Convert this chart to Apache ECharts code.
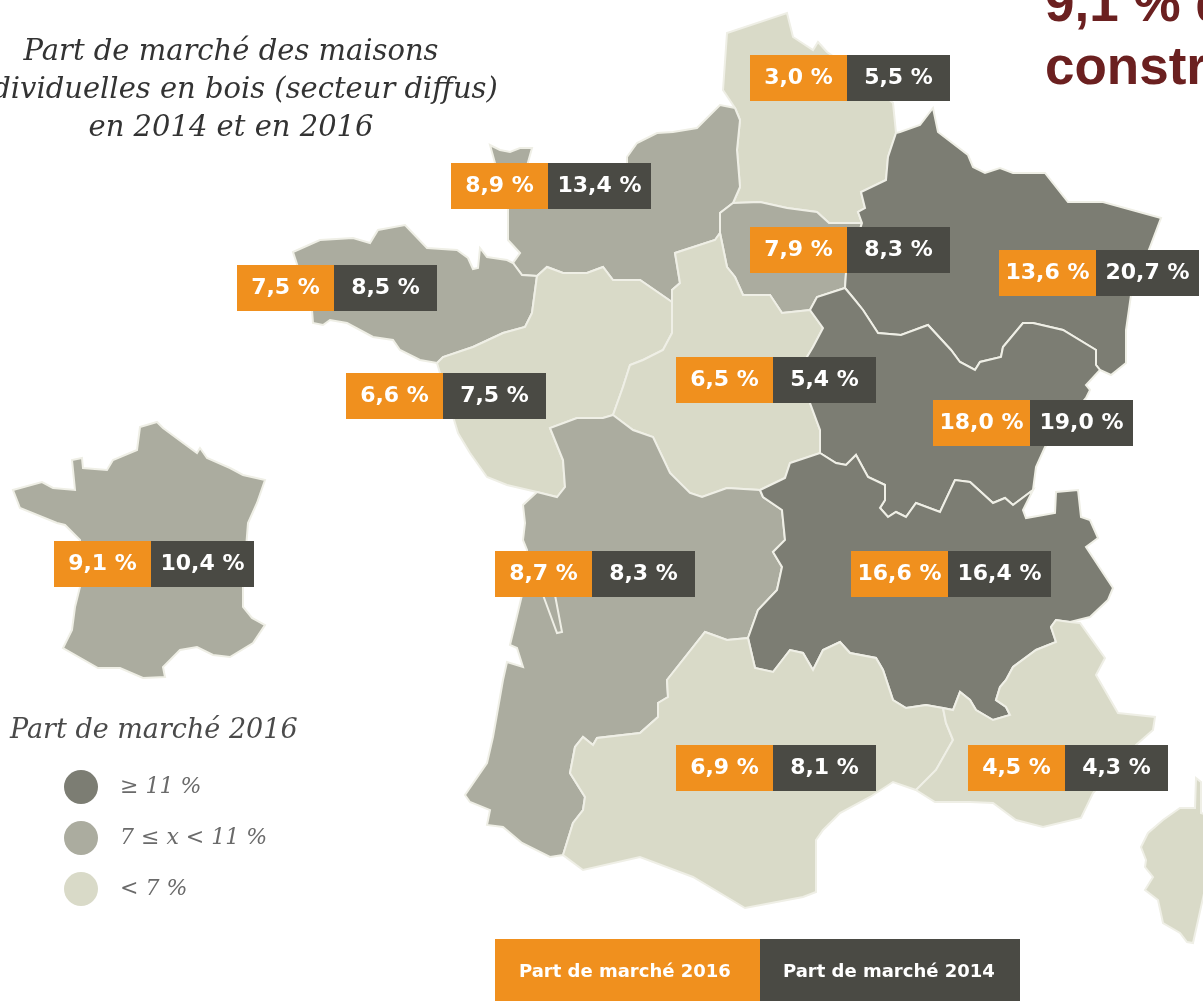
<!DOCTYPE html>
<html lang="fr">
<head>
<meta charset="utf-8">
<title>Part de marché des maisons individuelles en bois</title>
<style>
  html, body { margin: 0; padding: 0; background: #fff; }
  #main { width: 1203px; height: 1001px; overflow: hidden; }
</style>
<script src="https://cdn.jsdelivr.net/npm/echarts@6/dist/echarts.min.js"></script>
</head>
<body>
<div id="main"></div>
<script>
// values
const regions = ['Hauts-de-France', 'Normandie', 'Île-de-France', 'Grand Est', 'Bretagne', 'Pays de la Loire',
  'Centre-Val de Loire', 'Bourgogne-Franche-Comté', 'France', 'Nouvelle-Aquitaine', 'Auvergne-Rhône-Alpes', 'Occitanie', 'PACA']
const share2016 = [3.0, 8.9, 7.9, 13.6, 7.5, 6.6, 6.5, 18.0, 9.1, 8.7, 16.6, 6.9, 4.5]
const share2014 = [5.5, 13.4, 8.3, 20.7, 8.5, 7.5, 5.4, 19.0, 10.4, 8.3, 16.4, 8.1, 4.3]
const legendLabels = ['≥ 11 %', '7 ≤ x < 11 %', '< 7 %']

// where each region hangs its label, in the map's own coordinates
const labelAnchors = [[850, 78], [551, 186], [850, 250], [1099, 273], [337, 288], [446, 396],
  [776, 380], [1033, 423], [154, 564], [595, 574], [951, 574], [776, 768], [1068, 768]]

// region outlines; shared borders so neighbours meet
const nordWest = [[735, 108], [740, 120], [737, 150], [740, 187], [733, 203]]
const nordIdf = [[733, 203], [760, 202], [787, 208], [817, 212], [829, 223], [862, 223]]
const nordGe = [[862, 223], [858, 212], [865, 208], [861, 192], [886, 180], [888, 157], [896, 133]]
const idfNorm = [[733, 203], [720, 213], [720, 233]]
const idfCentre = [[720, 233], [727, 267], [735, 277], [743, 295], [770, 295], [782, 313], [810, 310]]
const idfBfc = [[810, 310], [817, 297], [845, 288]]
const idfGe = [[845, 288], [846, 273], [862, 223]]
const normCentre = [[720, 233], [715, 240], [675, 253], [680, 283], [672, 290], [672, 302]]
const normPdl = [[672, 302], [640, 280], [613, 280], [603, 267], [587, 273], [563, 273], [547, 267], [537, 276]]
const normBre = [[537, 276], [522, 275], [513, 263]]
const brePdl = [[537, 276], [532, 313], [525, 327], [503, 333], [473, 347], [443, 357], [437, 363]]
const pdlCentre = [[672, 302], [672, 333], [663, 350], [643, 360], [630, 365], [623, 387], [613, 415]]
const pdlNa = [[613, 415], [603, 418], [577, 418], [550, 428], [563, 460], [565, 487], [557, 497], [537, 492]]
const centreBfc = [[810, 310], [823, 328], [813, 347], [807, 357], [810, 403], [820, 430], [820, 453]]
const centreAra = [[820, 453], [790, 463], [785, 478], [760, 490]]
const centreNa = [[760, 490], [727, 488], [702, 497], [690, 493], [670, 473], [653, 437], [633, 430], [613, 415]]
const geBfc = [[1100, 370], [1096, 365], [1096, 350], [1063, 330], [1033, 323], [1023, 323], [1003, 347], [1001, 357],
  [980, 362], [975, 370], [960, 362], [951, 350], [928, 325], [901, 335], [878, 333], [863, 310], [855, 300], [845, 288]]
const bfcAra = [[820, 453], [836, 463], [846, 465], [856, 455], [868, 477], [885, 485], [885, 500], [880, 508], [888, 517],
  [896, 512], [906, 517], [916, 503], [940, 512], [955, 480], [970, 482], [993, 503], [1005, 498], [1013, 505], [1033, 490]]
const araPaca = [[1070, 622], [1056, 620], [1051, 627], [1056, 642], [1036, 650], [1013, 667], [1006, 680], [1000, 687],
  [996, 700], [1006, 707], [1010, 715], [993, 720], [976, 710], [970, 700], [960, 692], [953, 710], [943, 708]]
const araOcc = [[748, 638], [755, 668], [773, 672], [790, 650], [803, 653], [813, 670], [823, 650], [840, 642], [850, 653],
  [876, 658], [883, 670], [893, 700], [906, 708], [926, 705], [943, 708]]
const naAra = [[760, 490], [763, 497], [782, 510], [785, 540], [773, 552], [782, 567], [777, 590], [758, 610], [748, 638]]
const pacaOcc = [[943, 708], [946, 723], [953, 740], [936, 770], [916, 790]]
const naOcc = [[748, 638], [727, 640], [705, 632], [667, 680], [668, 697], [658, 703], [658, 717], [640, 733], [597, 738],
  [593, 745], [583, 737], [575, 747], [570, 773], [585, 797], [583, 810], [573, 823], [563, 855]]
const rev = a => a.slice().reverse()

const outlines = {
  'Hauts-de-France': [[[723, 90], [727, 33], [787, 13], [793, 37], [813, 50], [818, 42], [827, 52], [860, 75], [893, 103],
    ...rev(nordGe), ...rev(nordIdf), ...rev(nordWest)]],
  'Normandie': [[[520, 253], [508, 240], [508, 208], [495, 163], [490, 145], [500, 150], [510, 152], [520, 148], [532, 148],
    [527, 166], [627, 166], [627, 157], [637, 143], [657, 133], [673, 132], [697, 128], [720, 105],
    ...nordWest, ...idfNorm, ...normCentre, ...normPdl, ...normBre]],
  'Île-de-France': [[...nordIdf, ...rev(idfGe), ...rev(idfBfc), ...rev(idfCentre), ...rev(idfNorm)]],
  'Grand Est': [[...nordGe, [900, 132], [920, 125], [933, 108], [938, 132], [968, 155], [973, 167], [985, 173], [1000, 168],
    [1013, 173], [1045, 173], [1068, 202], [1103, 202], [1161, 218], [1150, 247], [1131, 295], [1126, 330], [1126, 363],
    [1111, 375], ...geBfc, ...idfGe]],
  'Bretagne': [[[293, 252], [320, 240], [353, 238], [370, 243], [378, 230], [405, 225], [427, 248], [457, 250], [468, 258],
    [473, 269], [478, 268], [480, 248], [487, 257], [507, 260], ...rev(normBre), ...brePdl, [420, 360], [400, 350], [393, 340],
    [373, 337], [347, 323], [330, 320], [323, 325], [313, 323], [312, 310]]],
  'Pays de la Loire': [[...normPdl, ...brePdl, [458, 433], [470, 453], [487, 477], [507, 485], ...rev(pdlNa), ...rev(pdlCentre)]],
  'Centre-Val de Loire': [[...rev(normCentre), ...idfCentre, ...centreBfc, ...centreAra, ...centreNa, ...rev(pdlCentre)]],
  'Bourgogne-Franche-Comté': [[...rev(geBfc), [1086, 385], [1090, 390], [1086, 398], [1045, 447], [1036, 467],
    ...rev(bfcAra), ...rev(centreBfc), ...idfBfc]],
  'France': [[[140, 427], [157, 422], [163, 428], [190, 448], [197, 453], [200, 448], [207, 458], [230, 468], [243, 475],
    [265, 480], [257, 503], [248, 523], [243, 587], [243, 607], [252, 618], [265, 625], [253, 643], [230, 657], [213, 655],
    [197, 647], [180, 650], [163, 667], [165, 677], [143, 678], [120, 668], [98, 668], [63, 648], [72, 630], [75, 607],
    [80, 587], [80, 540], [65, 525], [57, 523], [20, 508], [13, 490], [42, 482], [53, 488], [75, 490], [72, 460], [82, 458],
    [83, 468], [107, 470], [113, 460], [137, 450]]],
  'Nouvelle-Aquitaine': [[[537, 492], [523, 505], [525, 523], [523, 540], [527, 550], [525, 590], [543, 595], [557, 633],
    [562, 632], [555, 595], [522, 595], [510, 645], [517, 648], [523, 667], [507, 662], [503, 680], [493, 737], [487, 763],
    [465, 795], [470, 802], [490, 810], [487, 825], [503, 827], [522, 843], [550, 857], ...rev(naOcc), ...rev(naAra),
    ...centreNa, ...pdlNa]],
  'Auvergne-Rhône-Alpes': [[...bfcAra, [1023, 510], [1026, 518], [1055, 513], [1056, 492], [1078, 490], [1081, 517], [1090, 520],
    [1098, 538], [1086, 547], [1113, 588], [1108, 600], [1090, 617], ...araPaca, ...rev(araOcc), ...rev(naAra), ...rev(centreAra)]],
  'Occitanie': [[...araOcc, ...pacaOcc, [893, 782], [870, 797], [840, 813], [823, 830], [816, 840], [816, 892], [803, 897],
    [745, 908], [693, 877], [640, 857], [583, 870], ...rev(naOcc)]],
  'PACA': [[...rev(araPaca), [1080, 623], [1105, 658], [1096, 675], [1118, 713], [1155, 717], [1153, 730], [1136, 745],
    [1093, 793], [1081, 818], [1043, 827], [1016, 820], [993, 803], [970, 802], [935, 802], ...rev(pacaOcc)],
    [[1196, 778], [1201, 782], [1201, 813], [1207, 815], [1207, 880], [1193, 943], [1187, 942], [1180, 933], [1163, 923],
    [1158, 900], [1145, 890], [1153, 877], [1145, 867], [1146, 860], [1141, 847], [1148, 833], [1163, 820], [1180, 808], [1195, 808]]]
}

const H = 1001
const flip = p => [p[0], H - p[1]]
const geoJson = {
  type: 'FeatureCollection',
  features: regions.map((name, i) => ({
    type: 'Feature',
    properties: { name: name, cp: flip(labelAnchors[i]) },
    geometry: {
      type: 'MultiPolygon',
      coordinates: outlines[name].map(ring => [ring.concat([ring[0]]).map(flip)])
    }
  }))
}
echarts.registerMap('france', geoJson)

const fmt = v => v.toFixed(1).replace('.', ',') + ' %'
const serif = '"DejaVu Serif"'
const labelFont = '"DejaVu Sans"'

const myChart = echarts.init(document.getElementById('main'))
myChart.setOption({
  backgroundColor: '#fff',
  animation: false,
  title: [
    {
      text: 'Part de marché des maisons\nindividuelles en bois (secteur diffus)\nen 2014 et en 2016',
      left: 226, top: 28, textAlign: 'center',
      textStyle: { fontFamily: serif, fontStyle: 'italic', fontWeight: 'normal', fontSize: 29, lineHeight: 38, color: '#333' }
    },
    {
      text: 'Part de marché 2016',
      left: 5, top: 712,
      textStyle: { fontFamily: serif, fontStyle: 'italic', fontWeight: 'normal', fontSize: 27, color: '#4a4a4a' }
    },
    {
      text: '9,1 % de la\nconstruction',
      left: 1040, top: -30,
      textStyle: { fontFamily: '"Liberation Sans"', fontWeight: 'bold', fontSize: 53, lineHeight: 63, color: '#6b2020' }
    }
  ],
  visualMap: {
    type: 'piecewise',
    seriesIndex: 0,
    left: 49, top: 755,
    orient: 'vertical',
    itemSymbol: 'circle',
    itemWidth: 34, itemHeight: 34,
    itemGap: 17,
    textGap: 22,
    selectedMode: false,
    showLabel: true,
    textStyle: { fontFamily: serif, fontStyle: 'italic', fontSize: 22, color: '#6a6a6a' },
    pieces: [
      { min: 11, label: legendLabels[0], color: '#7c7d73' },
      { min: 7, lt: 11, label: legendLabels[1], color: '#abac9f' },
      { lt: 7, label: legendLabels[2], color: '#d9dac8' }
    ]
  },
  graphic: [
    { type: 'rect', left: 495, top: 939, shape: { width: 265, height: 62 }, style: { fill: '#f0901e' } },
    { type: 'rect', left: 760, top: 939, shape: { width: 260, height: 62 }, style: { fill: '#4a4a44' } },
    { type: 'text', left: 519, top: 963, style: { text: 'Part de marché 2016', fill: '#fff', font: 'bold 18px "DejaVu Sans"' } },
    { type: 'text', left: 783, top: 963, style: { text: 'Part de marché 2014', fill: '#fff', font: 'bold 18px "DejaVu Sans"' } }
  ],
  series: [
    {
      type: 'map',
      map: 'france',
      aspectScale: 1,
      boundingCoords: [[0, H], [1203, 0]],
      left: 0, top: 0, width: 1203, height: H,
      roam: false,
      silent: true,
      itemStyle: { borderColor: '#efefe6', borderWidth: 2 },
      label: {
        show: true,
        formatter: p => '{a|' + fmt(share2016[p.dataIndex]) + '}{b|' + fmt(share2014[p.dataIndex]) + '}',
        rich: {
          a: { width: 97, height: 46, lineHeight: 46, align: 'center', backgroundColor: '#f0901e', color: '#fff',
            fontFamily: labelFont, fontWeight: 'bold', fontSize: 22 },
          b: { width: 103, height: 46, lineHeight: 46, align: 'center', backgroundColor: '#4a4a44', color: '#fff',
            fontFamily: labelFont, fontWeight: 'bold', fontSize: 22 }
        }
      },
      data: regions.map((name, i) => ({ name: name, value: share2016[i] }))
    }
  ]
})
</script>
</body>
</html>
